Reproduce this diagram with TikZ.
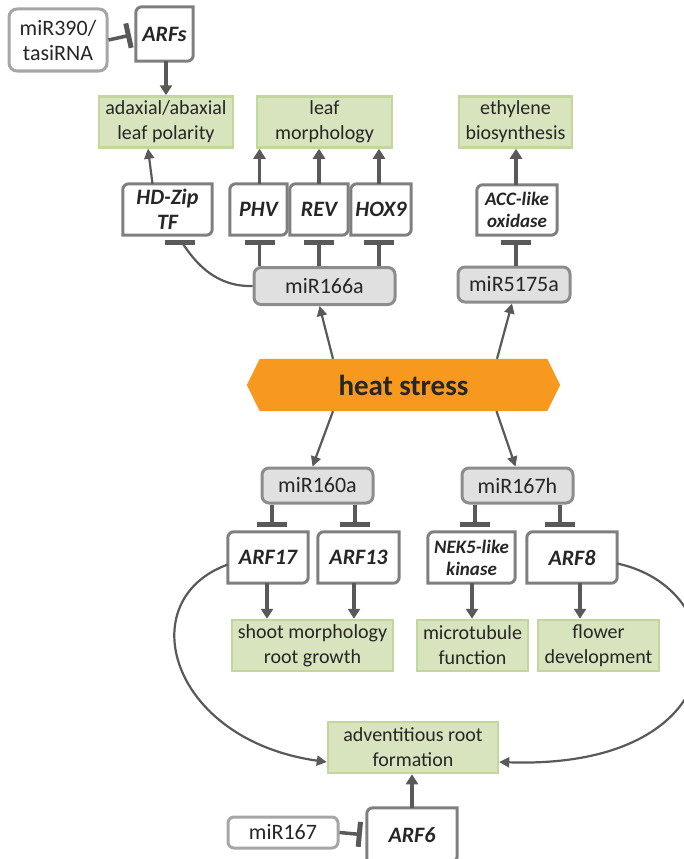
\documentclass[tikz,border=0pt]{standalone}
\usepackage{fontspec}
\setmainfont{Carlito}
\usetikzlibrary{arrows.meta,backgrounds}
\definecolor{lc}{HTML}{595959}
\definecolor{tc}{HTML}{262626}
\definecolor{gfill}{HTML}{D7E4BD}
\definecolor{gbd}{HTML}{C3D69B}
\definecolor{mfill}{HTML}{E0E0E0}
\definecolor{mbd}{HTML}{8C8C8C}
\definecolor{wbd}{HTML}{A6A6A6}
\definecolor{genebd}{HTML}{7F7F7F}
\definecolor{heatc}{HTML}{F7991F}
\newcommand\gbx[1]{\draw[gbox] (#1.north east) -- ([xshift=6pt]#1.north west) arc[start angle=90,end angle=180,radius=6pt] -- (#1.south west) -- ([xshift=-6pt]#1.south east) arc[start angle=270,end angle=360,radius=6pt] -- cycle;}
\tikzset{
 txt/.style={text=tc, align=center, inner sep=0pt},
 greenbox/.style={txt, fill=gfill, draw=gbd, line width=2.5pt, font=\fontsize{20}{25}\selectfont},
 mirbox/.style={txt, fill=mfill, draw=mbd, line width=3pt, rounded corners=7pt, font=\fontsize{22}{25}\selectfont},
 mirwbox/.style={txt, fill=white, draw=wbd, line width=3pt, rounded corners=8pt, font=\fontsize{22}{25}\selectfont},
 gene/.style={txt, font=\fontsize{22}{25}\selectfont\bfseries\itshape},
 genes/.style={txt, font=\fontsize{19}{22}\selectfont\bfseries\itshape},
 gbox/.style={draw=genebd, line width=3pt},
 arr/.style={draw=lc, line width=3.5pt, -{Triangle[length=10pt,width=12pt]}},
 tarr/.style={draw=lc, line width=2.2pt, -{Triangle[length=10pt,width=10pt]}},
 inh/.style={draw=lc, line width=3.5pt, -{Bar[width=30pt,line width=5pt]}, shorten >=5pt},
 inhv/.style={draw=lc, line width=3.5pt, -{Bar[width=25pt,line width=5pt]}, shorten >=5pt},
}
\begin{document}
\begin{tikzpicture}[x=1pt,y=-1pt]
\path[use as bounding box] (0,0) rectangle (683,859);
% top left
\node[mirwbox, minimum width=98pt, minimum height=62pt] (m390) at (58,40) {miR390/\\tasiRNA};
\node[gene, minimum width=57pt, minimum height=54pt] (arfs) at (164.5,34) {ARFs}; \gbx{arfs}
% top green
\node[greenbox, minimum width=134pt, minimum height=51pt] (pol) at (166,122) {adaxial/abaxial\\leaf polarity};
\node[greenbox, minimum width=135pt, minimum height=51pt] (leaf) at (324.5,122) {leaf\\morphology};
\node[greenbox, minimum width=113pt, minimum height=51pt] (eth) at (515.5,122) {ethylene\\biosynthesis};
% upper genes
\node[gene, minimum width=89pt, minimum height=51pt] (hdz) at (167.5,209.5) {HD-Zip\\TF}; \gbx{hdz}
\node[gene, minimum width=57pt, minimum height=51pt] (phv) at (258.5,209.5) {PHV}; \gbx{phv}
\node[gene, minimum width=58pt, minimum height=51pt] (rev) at (319,209.5) {REV}; \gbx{rev}
\node[gene, minimum width=60pt, minimum height=51pt] (hox) at (381,209.5) {HOX9}; \gbx{hox}
\node[genes, minimum width=80pt, minimum height=50pt] (acc) at (517,210) {ACC-like\\oxidase}; \gbx{acc}
% upper mirs
\node[mirbox, minimum width=141pt, minimum height=37pt] (m166) at (324.5,286) {miR166a};
\node[mirbox, minimum width=112pt, minimum height=35pt] (m5175) at (514,284.5) {miR5175a};
% heat stress
\node[txt, minimum width=313pt, minimum height=52pt, font=\fontsize{29}{30}\selectfont\bfseries] (heat) at (403.5,385) {heat stress};
\begin{scope}[on background layer]
\fill[heatc] (heat.west) -- ([xshift=13pt]heat.north west) -- ([xshift=-13pt]heat.north east) -- (heat.east) -- ([xshift=-13pt]heat.south east) -- ([xshift=13pt]heat.south west) -- cycle;
\end{scope}
% lower mirs
\node[mirbox, minimum width=111pt, minimum height=35pt] (m160) at (317.5,485.5) {miR160a};
\node[mirbox, minimum width=111pt, minimum height=35pt] (m167h) at (517.5,485.5) {miR167h};
% lower genes
\node[gene, minimum width=80pt, minimum height=51pt] (arf17) at (268,557.5) {ARF17}; \gbx{arf17}
\node[gene, minimum width=81pt, minimum height=51pt] (arf13) at (358.5,557.5) {ARF13}; \gbx{arf13}
\node[genes, minimum width=87pt, minimum height=51pt] (nek) at (471.5,557.5) {NEK5-like\\kinase}; \gbx{nek}
\node[gene, minimum width=90pt, minimum height=51pt] (arf8) at (572,557.5) {ARF8}; \gbx{arf8}
% lower green
\node[greenbox, minimum width=161pt, minimum height=51pt] (shoot) at (312.5,645.5) {shoot morphology\\root growth};
\node[greenbox, minimum width=111pt, minimum height=51pt] (micro) at (472.5,645.5) {microtubule\\function};
\node[greenbox, minimum width=121pt, minimum height=51pt] (flow) at (598.5,645.5) {flower\\development};
% bottom
\node[greenbox, minimum width=170pt, minimum height=51pt] (adv) at (413,747.5) {adventitious root\\formation};
\node[gene, minimum width=90pt, minimum height=54pt] (arf6) at (412,835) {ARF6}; \gbx{arf6}
\node[mirwbox, minimum width=110pt, minimum height=31pt, rounded corners=6pt] (m167) at (283,832.5) {miR167};

% connectors top
\draw[inhv] (m390.east) -- (arfs.west);
\draw[arr] ([xshift=1.5pt]arfs.south) -- ([xshift=1.5pt]arfs.south |- pol.north);
\draw[tarr] ([xshift=-15pt]hdz.north) -- ([xshift=-18pt]pol.south);
\draw[arr] ([xshift=1pt]phv.north) -- ([xshift=1pt]phv.north |- leaf.south);
\draw[arr] (rev.north) -- (rev.north |- leaf.south);
\draw[arr] ([xshift=-2pt]hox.north) -- ([xshift=-2pt]hox.north |- leaf.south);
\draw[arr] ([xshift=-1pt]acc.north) -- ([xshift=-1pt]acc.north |- eth.south);
\draw[inh] ([xshift=1pt]phv.south |- m166.north) -- ([xshift=1pt]phv.south);
\draw[inh] (rev.south |- m166.north) -- (rev.south);
\draw[inh] ([xshift=-2pt]hox.south |- m166.north) -- ([xshift=-2pt]hox.south);
\draw[inh] ([xshift=-1pt]acc.south |- m5175.north) -- ([xshift=-1pt]acc.south);
\draw[draw=lc, line width=2.2pt] (m166.west) .. controls (215,287) and (195,262) .. ([xshift=15pt,yshift=-8pt]hdz.south);
\draw[draw=lc, line width=5pt] ([xshift=-2.5pt,yshift=-7.5pt]hdz.south) -- ([xshift=27.5pt,yshift=-7.5pt]hdz.south);
% heat arrows
\draw[tarr] ([xshift=-70.5pt]heat.north) -- ([xshift=-5pt]m166.south);
\draw[tarr] ([xshift=93.5pt]heat.north) -- ([xshift=-2pt]m5175.south);
\draw[tarr] ([xshift=-70.5pt]heat.south) -- ([xshift=-5pt]m160.north);
\draw[tarr] ([xshift=93pt]heat.south) -- ([xshift=-2pt]m167h.north);
% lower inhibitions
\draw[inh] ([xshift=4pt]arf17.north |- m160.south) -- ([xshift=4pt]arf17.north);
\draw[inh] ([xshift=-3.5pt]arf13.north |- m160.south) -- ([xshift=-3.5pt]arf13.north);
\draw[inh] ([xshift=3.5pt]nek.north |- m167h.south) -- ([xshift=3.5pt]nek.north);
\draw[inh] ([xshift=-12pt]arf8.north |- m167h.south) -- ([xshift=-12pt]arf8.north);
% lower arrows
\draw[arr] ([xshift=-1pt]arf17.south) -- ([xshift=-1pt]arf17.south |- shoot.north);
\draw[arr] ([xshift=-4.5pt]arf13.south) -- ([xshift=-4.5pt]arf13.south |- shoot.north);
\draw[arr] ([xshift=0.5pt]nek.south) -- ([xshift=0.5pt]nek.south |- micro.north);
\draw[arr] ([xshift=8pt]arf8.south) -- ([xshift=8pt]arf8.south |- flow.north);
% curves
\draw[tarr] ([yshift=-7pt]arf17.west) .. controls (130,600) and (170,740) .. ([yshift=-14.5pt]adv.west);
\draw[tarr] ([yshift=-6pt]arf8.east) .. controls (740,590) and (740,770) .. ([yshift=-14.5pt]adv.east);
% bottom
\draw[arr] (arf6.north) -- (arf6.north |- adv.south);
\draw[inhv] (m167.east) -- (arf6.west);
\end{tikzpicture}
\end{document}
